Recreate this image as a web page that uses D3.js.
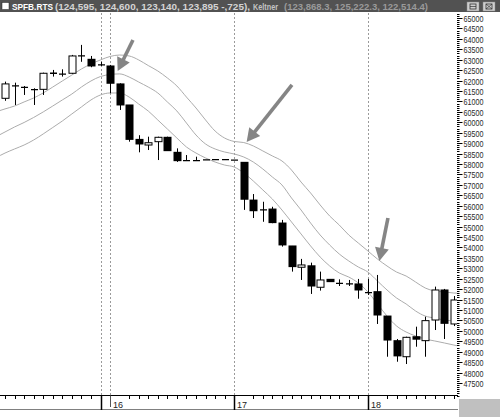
<!DOCTYPE html>
<html><head><meta charset="utf-8">
<script src="https://cdn.jsdelivr.net/npm/d3@7"></script>
<style>body{margin:0;background:#fff}svg{display:block}</style>
</head><body><svg id="c" width="500" height="419"></svg>
<script>
// ---- data (hourly bars, SPFB.RTS) ----
const opens  = [61150,61760,61680,61570,61580,62350,62315,62350,63180,63020,62750,62700,61840,60830,59180,58910,59070,59280,58560,58160,58160,58200,58210,58210,58190,58080,56270,55800,55840,55170,54070,53050,53120,52090,52470,52280,52250,52250,51830,51880,50710,49530,48760,49720,49530,50520,51960,50330];
const highs  = [61950,61900,61740,61630,62380,62510,62540,63230,63710,63180,62900,62750,61870,60830,59380,59310,59310,59310,58750,58430,58350,58200,58210,58210,58190,58080,56560,56190,55950,55320,54070,53450,53270,52840,52470,52470,52440,52490,52490,52680,50710,49610,49720,50200,50680,52120,52010,51670];
const lows   = [61030,60830,61310,60830,61310,62190,62190,62320,62900,62640,62700,61390,60590,59070,58560,58670,58190,58640,58100,58160,58160,58200,58210,58210,58190,55800,55410,55230,55160,54040,52840,52440,51770,51930,52360,52150,52150,51540,51720,50330,48760,48520,48410,49240,48760,50040,49610,50230];
const closes = [61840,61740,61670,61560,62350,62350,62310,63180,63180,62700,62750,61870,60830,59180,58960,59020,59280,58640,58160,58160,58160,58200,58210,58210,58190,56310,55760,55800,55190,54120,53080,53160,52150,52440,52360,52280,52250,51960,51830,50760,49560,48800,49690,49600,50490,51960,50360,51480];
// Keltner channel (index 0 = bar before first visible, 49 = right edge)
const upperBand  = [60495,60640,60780,60975,61165,61405,61690,61980,62265,62555,62795,62990,63155,63225,63180,62990,62720,62460,62125,61740,61210,60685,60110,59580,59245,59080,59030,58865,58625,58385,58145,57710,57135,56610,56035,55505,55075,54595,54210,53830,53445,53110,52820,52630,52340,52055,51910,51865,51815,51790];
const middleBand = [59295,59535,59775,59990,60230,60495,60780,61070,61355,61690,61980,62195,62290,62320,62170,61930,61690,61405,60975,60540,59965,59390,58960,58720,58575,58480,58335,58095,57760,57375,56995,56370,55795,55170,54595,54115,53685,53350,53060,52820,52390,51960,51575,51290,50950,50710,50615,50520,50475,50425];
const lowerBand  = [58290,58525,58720,58910,59150,59440,59750,60060,60400,60735,61070,61310,61405,61405,61210,60875,60540,60110,59680,59245,58815,58525,58290,58095,57950,57855,57570,57185,56755,56320,55795,55220,54645,54070,53540,53110,52775,52580,52295,51865,51290,50710,50235,49945,49755,49610,49515,49420,49320,49225];
const yTicks = [65000,64500,64000,63500,63000,62500,62000,61500,61000,60500,60000,59500,59000,58500,58000,57500,57000,56500,56000,55500,55000,54500,54000,53500,53000,52500,52000,51500,51000,50500,50000,49500,49000,48500,48000,47500];
const dayLabels = ["16","17","18"];
const dayLabelIdx = [12,25,39];
const dayBoundaryIdx = [11,25,39];
const gridIdx = [11,12,25,39];
const arrowTails = [[14.4,63945],[31.05,61790],[41.1,55410]];
const arrowTips  = [[12.8,62460],[26.3,59060],[40.2,53350]];
const titleMain = "SPFB.RTS";
const titleVals = "(124,595, 124,600, 123,140, 123,895 -,725),";
const titleInd = "Keltner";
const titleIndVals = "(123,868.3, 125,222.3, 122,514.4)";

// ---- drawing ----
const svg = d3.select("#c");
const plotL = 0, plotR = 457, plotT = 13, plotB = 395.5;
const x = d3.scaleLinear().domain([1,48]).range([5,453.85]);
const y = d3.scaleLinear().domain([47500,65000]).range([383,18]);
const FONT = "'Liberation Sans', Arial, sans-serif";

svg.append("defs").append("clipPath").attr("id","pc")
  .append("rect").attr("x",plotL).attr("y",plotT).attr("width",plotR-plotL).attr("height",plotB-plotT);

// title bar
svg.append("rect").attr("x",0).attr("y",0).attr("width",500).attr("height",12).attr("fill","#525252");
svg.append("rect").attr("x",2).attr("y",2.5).attr("width",7).attr("height",7).attr("fill","#fff").attr("stroke","#222").attr("stroke-width",0.5);
const tb = svg.append("g").attr("font-family",FONT).attr("font-weight","bold").attr("font-size",9.5);
tb.append("text").attr("x",12).attr("y",9.6).attr("fill","#fff").attr("textLength",41).attr("lengthAdjust","spacingAndGlyphs").text(titleMain);
tb.append("text").attr("x",55).attr("y",9.6).attr("fill","#d4d4d4").attr("textLength",195).attr("lengthAdjust","spacingAndGlyphs").text(titleVals);
tb.append("text").attr("x",253).attr("y",9.6).attr("fill","#c4c4c4").attr("textLength",25).attr("lengthAdjust","spacingAndGlyphs").text(titleInd);
tb.append("text").attr("x",284).attr("y",9.6).attr("fill","#9a9a9a").attr("textLength",144).attr("lengthAdjust","spacingAndGlyphs").text(titleIndVals);
// window buttons
[[467,2],[483,2]].forEach((p,i)=>{
  svg.append("rect").attr("x",p[0]).attr("y",p[1]).attr("width",12).attr("height",9).attr("fill","#cfcfcf").attr("stroke","#888").attr("stroke-width",0.5);
  svg.append("rect").attr("x",p[0]+3).attr("y",p[1]+2).attr("width",6).attr("height",5).attr("fill","none").attr("stroke","#333").attr("stroke-width",0.8);
  if(i===1){
    svg.append("path").attr("d",`M${p[0]+3},${p[1]+2}L${p[0]+9},${p[1]+7}M${p[0]+9},${p[1]+2}L${p[0]+3},${p[1]+7}`).attr("stroke","#333").attr("stroke-width",0.7);
  } else {
    svg.append("line").attr("x1",p[0]+3).attr("x2",p[0]+9).attr("y1",p[1]+4.5).attr("y2",p[1]+4.5).attr("stroke","#333").attr("stroke-width",0.7);
  }
});

const plot = svg.append("g").attr("clip-path","url(#pc)");

// dotted day grid
plot.selectAll("line.grid").data(gridIdx).join("line")
  .attr("x1",d=>Math.round(x(d))+0.5).attr("x2",d=>Math.round(x(d))+0.5)
  .attr("y1",plotT).attr("y2",plotB)
  .attr("stroke","#9a9a9a").attr("stroke-dasharray","2,2").attr("stroke-width",1);

// Keltner bands
const bandIdx = d3.range(upperBand.length);
const line = d3.line().x(i=>x(i)).curve(d3.curveMonotoneX);
[upperBand,middleBand,lowerBand].forEach(b=>{
  plot.append("path").attr("d", line.y(i=>y(b[i]))(bandIdx))
    .attr("fill","none").attr("stroke","#acacac").attr("stroke-width",1);
});

// candles
const bars = d3.range(opens.length).map(i=>({i:i+1,o:opens[i],h:highs[i],l:lows[i],c:closes[i]}));
const hw = 3.5;
const cg = plot.append("g");
bars.forEach(b=>{
  const cx = Math.round(x(b.i))+0.5;
  const yo=y(b.o), yc=y(b.c), yh=y(b.h), yl=y(b.l);
  const top=Math.min(yo,yc), bot=Math.max(yo,yc);
  if (b.h>b.l) cg.append("line").attr("x1",cx).attr("x2",cx).attr("y1",yh).attr("y2",yl).attr("stroke","#000").attr("stroke-width",1);
  if (bot-top < 1.2) {
    cg.append("line").attr("x1",cx-hw).attr("x2",cx+hw).attr("y1",(top+bot)/2).attr("y2",(top+bot)/2).attr("stroke","#000").attr("stroke-width",1.3);
  } else if (b.c>=b.o) {
    cg.append("rect").attr("x",cx-hw).attr("y",top).attr("width",hw*2).attr("height",bot-top).attr("fill","#fff").attr("stroke","#000").attr("stroke-width",1);
  } else {
    cg.append("rect").attr("x",cx-hw-0.5).attr("y",top-0.5).attr("width",hw*2+1).attr("height",bot-top+1).attr("fill","#000");
  }
});

// arrows
arrowTails.forEach((t,k)=>{
  const x0=x(t[0]), y0=y(t[1]), x1=x(arrowTips[k][0]), y1=y(arrowTips[k][1]);
  const dx=x1-x0, dy=y1-y0, L=Math.hypot(dx,dy), ux=dx/L, uy=dy/L, px=-uy, py=ux;
  const hl=13, hwid=7;
  const bx=x1-ux*hl, by=y1-uy*hl;
  svg.append("line").attr("x1",x0).attr("y1",y0).attr("x2",bx+ux*1).attr("y2",by+uy*1)
    .attr("stroke","#858585").attr("stroke-width",3.6);
  svg.append("path").attr("d",`M${x1},${y1}L${bx+px*hwid},${by+py*hwid}L${bx-px*hwid},${by-py*hwid}Z`).attr("fill","#858585");
});

// right price axis
const minor = d3.range(46900,65400,100).filter(v=>y(v)>=12 && y(v)<=396);
svg.append("g").selectAll("line").data(minor).join("line")
  .attr("x1",457).attr("x2",459.5).attr("y1",d=>Math.round(y(d))+0.5).attr("y2",d=>Math.round(y(d))+0.5)
  .attr("stroke","#000").attr("stroke-width",1);
const yax = svg.append("g").attr("font-family",FONT).attr("font-size",9);
yTicks.forEach(v=>{
  const yy=Math.round(y(v))+0.5;
  yax.append("line").attr("x1",457).attr("x2",462.5).attr("y1",yy).attr("y2",yy).attr("stroke","#000");
  yax.append("text").attr("x",463.5).attr("y",yy+3.3).attr("fill","#2a2a2a")
    .attr("textLength",20).attr("lengthAdjust","spacingAndGlyphs").text(String(v));
});

// bottom time axis
svg.append("line").attr("x1",0).attr("x2",458).attr("y1",395.5).attr("y2",395.5).attr("stroke","#000");
svg.append("line").attr("x1",0).attr("x2",458).attr("y1",409.5).attr("y2",409.5).attr("stroke","#808080");
const skip = new Set(dayLabelIdx.map(d=>d+1).concat(dayBoundaryIdx).concat(dayLabelIdx));
const minorX = d3.range(1,49).filter(i=>!skip.has(i));
svg.append("g").selectAll("line").data(minorX).join("line")
  .attr("x1",d=>Math.round(x(d))+0.5).attr("x2",d=>Math.round(x(d))+0.5)
  .attr("y1",395.5).attr("y2",399).attr("stroke","#000");
dayBoundaryIdx.forEach(d=>{
  const xx=Math.round(x(d))+0.5;
  svg.append("line").attr("x1",xx).attr("x2",xx).attr("y1",395.5).attr("y2",410).attr("stroke","#000").attr("stroke-width",1.5);
});
dayLabelIdx.forEach((d,k)=>{
  const xx=Math.round(x(d))+0.5;
  if(!dayBoundaryIdx.includes(d))
    svg.append("line").attr("x1",xx).attr("x2",xx).attr("y1",395.5).attr("y2",407).attr("stroke","#555");
  svg.append("text").attr("x",xx+2.5).attr("y",407.5).attr("font-family",FONT).attr("font-size",9)
    .attr("fill","#222").text(dayLabels[k]);
});
// gray corner box
svg.append("rect").attr("x",459).attr("y",399).attr("width",41).attr("height",18).attr("fill","#c0c0c0");
</script></body></html>
